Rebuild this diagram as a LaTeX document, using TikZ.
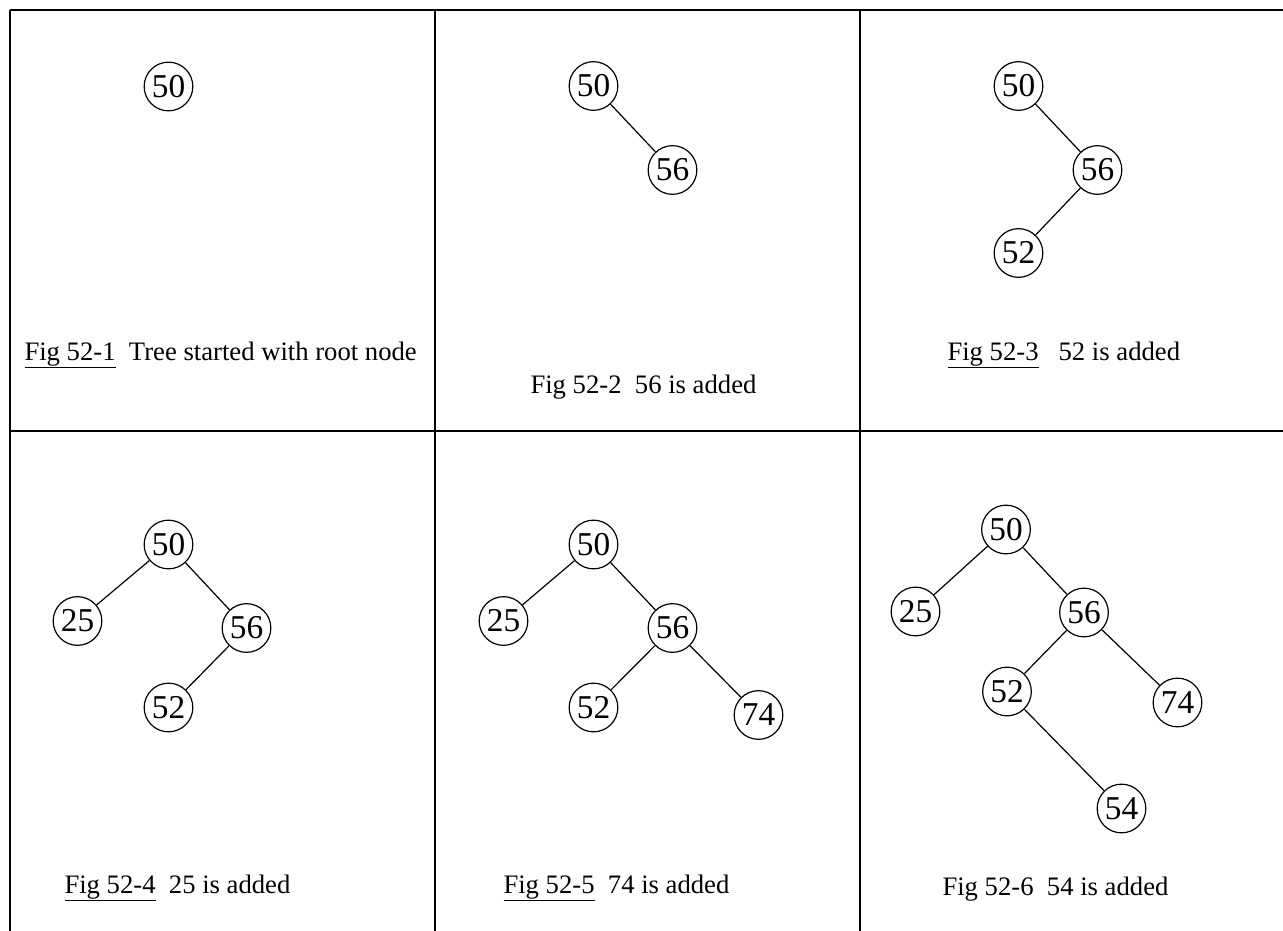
\documentclass[tikz,border=0pt]{standalone}
\usepackage{fontspec}
\setmainfont{Liberation Serif}

\tikzset{every picture/.style={line width=0.75pt}}
\tikzset{
  key/.style={circle,draw,line width=0.9pt,minimum size=36.5pt,inner sep=0pt,font=\fontsize{25}{25}\selectfont},
  caption/.style={anchor=base west,inner sep=0pt,font=\fontsize{20}{22}\selectfont},
  grid/.style={line width=1.9pt},
  edge/.style={line width=0.9pt}
}

\begin{document}
\begin{tikzpicture}[x=0.75pt,y=0.75pt,yscale=-1,xscale=1]
\useasboundingbox (0,0) rectangle (1283,931);

%Table lines
\draw [grid] (10,10) -- (1283,10) ;
\draw [grid] (10,431) -- (1283,431) ;
\draw [grid] (10,10) -- (10,931) ;
\draw [grid] (435,10) -- (435,931) ;
\draw [grid] (860,10) -- (860,931) ;

%Fig 52-1
\node [key] (a50) at (168.5,86.5) {50};
\node [caption] (capa) at (24,360) {\underline{Fig 52-1}~~Tree started with root node};

%Fig 52-2
\node [key] (b50) at (593.5,86) {50};
\node [key] (b56) at (672.5,170) {56};
\draw [edge] (b50) -- (b56) ;
\node [caption] (capb) at (530,393) {Fig 52-2~~56 is added};

%Fig 52-3
\node [key] (c50) at (1018.5,86) {50};
\node [key] (c56) at (1097.5,170) {56};
\node [key] (c52) at (1018.5,253) {52};
\draw [edge] (c50) -- (c56) ;
\draw [edge] (c56) -- (c52) ;
\node [caption] (capc) at (947,360) {\underline{Fig 52-3}~~~52 is added};

%Fig 52-4
\node [key] (d50) at (168.5,544.5) {50};
\node [key] (d25) at (77.5,621) {25};
\node [key] (d56) at (246.5,628) {56};
\node [key] (d52) at (168.5,707.5) {52};
\draw [edge] (d50) -- (d25) ;
\draw [edge] (d50) -- (d56) ;
\draw [edge] (d56) -- (d52) ;
\node [caption] (capd) at (64,893) {\underline{Fig 52-4}~~25 is added};

%Fig 52-5
\node [key] (e50) at (593.5,544.5) {50};
\node [key] (e25) at (503.5,621) {25};
\node [key] (e56) at (672.5,628) {56};
\node [key] (e52) at (593.5,707.5) {52};
\node [key] (e74) at (758.5,715) {74};
\draw [edge] (e50) -- (e25) ;
\draw [edge] (e50) -- (e56) ;
\draw [edge] (e56) -- (e52) ;
\draw [edge] (e56) -- (e74) ;
\node [caption] (cape) at (503,893) {\underline{Fig 52-5}~~74 is added};

%Fig 52-6
\node [key] (f50) at (1006,529.5) {50};
\node [key] (f25) at (915.5,611.5) {25};
\node [key] (f56) at (1084,612.5) {56};
\node [key] (f52) at (1007,691.5) {52};
\node [key] (f74) at (1177.5,702.5) {74};
\node [key] (f54) at (1121.5,808.5) {54};
\draw [edge] (f50) -- (f25) ;
\draw [edge] (f50) -- (f56) ;
\draw [edge] (f56) -- (f52) ;
\draw [edge] (f56) -- (f74) ;
\draw [edge] (f52) -- (f54) ;
\node [caption] (capf) at (942,895) {Fig 52-6~~54 is added};

\end{tikzpicture}
\end{document}
